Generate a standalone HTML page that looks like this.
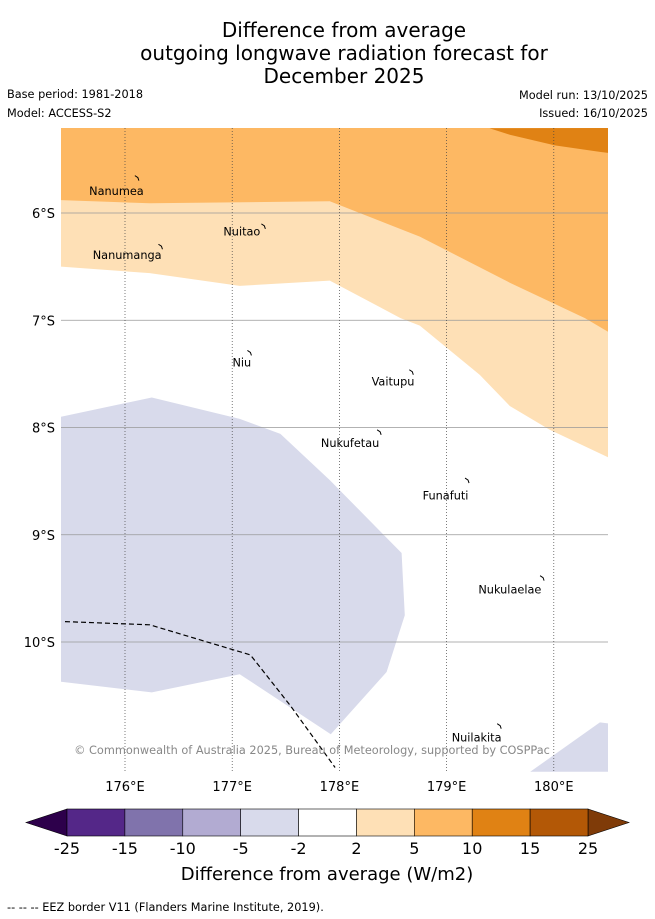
<!DOCTYPE html>
<html><head><meta charset="utf-8"><style>
body{margin:0;background:#fff;font-family:"DejaVu Sans","Liberation Sans",sans-serif}
svg{display:block}
</style></head><body>
<svg width="655" height="919" viewBox="0 0 655 919" xmlns="http://www.w3.org/2000/svg">
<g id="title" font-size="20" text-anchor="middle" fill="#000">
<text x="344" y="37">Difference from average</text>
<text x="344" y="60">outgoing longwave radiation forecast for</text>
<text x="344" y="83">December 2025</text>
</g>
<g font-size="11.3" fill="#000">
<text x="7" y="98">Base period: 1981-2018</text>
<text x="7" y="117">Model: ACCESS-S2</text>
<text x="648" y="99" text-anchor="end">Model run: 13/10/2025</text>
<text x="648" y="117" text-anchor="end">Issued: 16/10/2025</text>
</g>
<g id="map"></g>
<g id="cbar"></g>
<text x="327" y="880" text-anchor="middle" font-size="18">Difference from average (W/m2)</text>
<text x="7" y="911" font-size="11.3">--  --  -- EEZ border V11 (Flanders Marine Institute, 2019).</text>
</svg>
<script>
const lonTicks=[176,177,178,179,180];
const latTicks=[6,7,8,9,10];
const orangeBoundary=[[175.40,5.88],[176.23,5.91],[177.91,5.89],[178.75,6.22],[179.59,6.65],[180.29,6.98],[180.51,7.11]];
const darkOrange=[[179.40,5.21],[179.59,5.27],[180.01,5.37],[180.43,5.43],[180.51,5.44]];
const lightBoundary=[[175.40,6.50],[176.23,6.56],[177.07,6.68],[177.91,6.63],[178.57,6.98],[178.75,7.05],[179.31,7.51],[179.59,7.80],[179.96,8.02],[180.51,8.28]];
const lavenderA=[[175.40,7.90],[176.25,7.72],[177.07,7.92],[177.45,8.06],[177.91,8.49],[178.58,9.17],[178.61,9.75],[178.44,10.28],[177.92,10.86],[177.07,10.30],[176.25,10.47],[175.40,10.37]];
const lavenderB=[[179.78,11.21],[180.43,10.75],[180.51,10.76],[180.51,11.21]];
const eez=[[175.44,9.81],[176.23,9.84],[177.17,10.12],[177.54,10.59],[177.96,11.17]];
const islands=["Nanumea","Nuitao","Nanumanga","Niu","Vaitupu","Nukufetau","Funafuti","Nukulaelae","Nuilakita"];
const islandLon=[176.12,177.30,176.34,177.17,178.68,178.38,179.20,179.90,179.50];
const islandLat=[5.67,6.12,6.31,7.30,7.48,8.04,8.49,9.40,10.78];
const labelLon=[175.92,177.09,176.02,177.09,178.50,178.10,178.99,179.59,179.28];
const labelLat=[5.83,6.21,6.43,7.43,7.61,8.18,8.67,9.55,10.93];
const cbLevels=["-25","-15","-10","-5","-2","2","5","10","15","25"];
const cbColors=["#542788","#8073ac","#b2abd2","#d8daeb","#ffffff","#fee0b6","#fdb863","#e08214","#b35806"];
const cbExt=["#2d004b","#7f3b08"];

const L=61,R=608,T=128,B=772;
const X=lon=>125+(lon-176)*107.2;
const Y=lat=>213+(lat-6)*107.25;
const NS="http://www.w3.org/2000/svg";
const map=document.getElementById('map');
function mk(tag,attrs,parent){const e=document.createElementNS(NS,tag);for(const k in attrs)e.setAttribute(k,attrs[k]);(parent||map).appendChild(e);return e;}
const pts=a=>a.map(p=>X(p[0]).toFixed(1)+','+Y(p[1]).toFixed(1)).join(' ');
const cp=mk('clipPath',{id:'clip'});mk('rect',{x:L,y:T,width:R-L,height:B-T},cp);
const g=mk('g',{'clip-path':'url(#clip)'});
let e;
e=mk('polygon',{points:`${L},${T} ${R},${T} ${pts(lightBoundary.slice().reverse())}`,fill:'#fee0b6'},g);


e=mk('polygon',{points:`${L},${T} ${R},${T} ${pts(orangeBoundary.slice().reverse())}`,fill:'#fdb863'},g);


e=mk('polygon',{points:`${pts(darkOrange)} ${R},${T}`,fill:'#e08214'},g);


e=mk('polygon',{points:pts(lavenderA),fill:'#d8daeb'},g);


e=mk('polygon',{points:pts(lavenderB),fill:'#d8daeb'},g);


latTicks.forEach(t=>{
 e=mk('line',{x1:L,x2:R,y1:Y(t),y2:Y(t),stroke:'#999','stroke-width':0.8},g);
 
 
 e=mk('text',{x:55,y:Y(t)+5,'text-anchor':'end','font-size':13});e.textContent=t+'°S';
 
 
});
lonTicks.forEach(t=>{
 e=mk('line',{x1:X(t),x2:X(t),y1:T,y2:B,stroke:'#444','stroke-width':0.7,'stroke-dasharray':'1,2'},g);
 
 
 e=mk('text',{x:X(t),y:791,'text-anchor':'middle','font-size':13});e.textContent=t+'°E';
 
 
});
e=mk('polyline',{points:pts(eez),fill:'none',stroke:'#000','stroke-width':1.2,'stroke-dasharray':'5,3'},g);


islands.forEach((n,i)=>{
 const x=X(islandLon[i]),y=Y(islandLat[i]);
 e=mk('path',{d:`M${x-3},${y-2} l3,2 l1,3`,stroke:'#000',fill:'none','stroke-width':1},g);
 
 
 e=mk('text',{x:X(labelLon[i]),y:Y(labelLat[i]),'text-anchor':'middle','font-size':11.3},g);e.textContent=n;
 
 
});
e=mk('text',{x:312,y:754,'text-anchor':'middle','font-size':11.3,fill:'#888'},g);
e.textContent='© Commonwealth of Australia 2025, Bureau of Meteorology, supported by COSPPac';



const cb=document.getElementById('cbar');
const cx0=67,cx1=588,cy=809,ch=27,w=(cx1-cx0)/cbColors.length;
e=mk('polygon',{points:`${cx0},${cy} 26,${cy+ch/2} ${cx0},${cy+ch}`,fill:cbExt[0],stroke:'#000','stroke-width':0.6},cb);


e=mk('polygon',{points:`${cx1},${cy} 629,${cy+ch/2} ${cx1},${cy+ch}`,fill:cbExt[1],stroke:'#000','stroke-width':0.6},cb);


cbColors.forEach((c,i)=>{
 e=mk('rect',{x:cx0+i*w,y:cy,width:w,height:ch,fill:c,stroke:'#000','stroke-width':0.6},cb);
 
 
});
cbLevels.forEach((l,i)=>{
 e=mk('text',{x:cx0+i*w,y:854,'text-anchor':'middle','font-size':16},cb);e.textContent=l;
 
 
});
</script>
</body></html>
